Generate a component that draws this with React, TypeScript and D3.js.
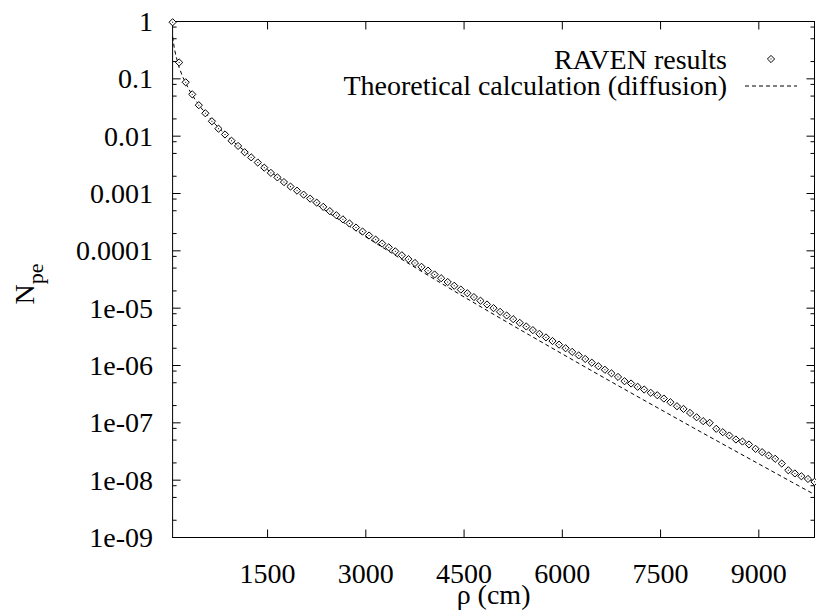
import React from "react";
import * as d3 from "d3";

const ravenRho = [
  50, 150, 250, 350, 450, 550, 650, 750, 850, 950,
  1050, 1150, 1250, 1350, 1450, 1550, 1650, 1750, 1850, 1950,
  2050, 2150, 2250, 2350, 2450, 2550, 2650, 2750, 2850, 2950,
  3050, 3150, 3250, 3350, 3450, 3550, 3650, 3750, 3850, 3950,
  4050, 4150, 4250, 4350, 4450, 4550, 4650, 4750, 4850, 4950,
  5050, 5150, 5250, 5350, 5450, 5550, 5650, 5750, 5850, 5950,
  6050, 6150, 6250, 6350, 6450, 6550, 6650, 6750, 6850, 6950,
  7050, 7150, 7250, 7350, 7450, 7550, 7650, 7750, 7850, 7950,
  8050, 8150, 8250, 8350, 8450, 8550, 8650, 8750, 8850, 8950,
  9050, 9150, 9250, 9350, 9450, 9550, 9650, 9750, 9850,
];

const ravenNpe = [
  0.97, 0.193, 0.0871, 0.0537, 0.0347, 0.0251, 0.0182, 0.0135, 0.0107, 0.00832,
  0.00676, 0.00525, 0.00427, 0.00347, 0.00282, 0.00229, 0.00191, 0.00158, 0.00132, 0.00112,
  9.55e-4, 8.13e-4, 6.93e-4, 5.85e-4, 4.93e-4, 4.18e-4, 3.54e-4, 3.0e-4, 2.55e-4, 2.17e-4,
  1.85e-4, 1.57e-4, 1.34e-4, 1.15e-4, 9.8e-5, 8.37e-5, 7.16e-5, 6.14e-5, 5.26e-5, 4.51e-5,
  3.87e-5, 3.33e-5, 2.86e-5, 2.46e-5, 2.11e-5, 1.82e-5, 1.56e-5, 1.35e-5, 1.16e-5, 1.0e-5,
  8.63e-6, 7.45e-6, 6.43e-6, 5.55e-6, 4.79e-6, 4.14e-6, 3.57e-6, 3.09e-6, 2.67e-6, 2.31e-6,
  2.0e-6, 1.73e-6, 1.5e-6, 1.3e-6, 1.12e-6, 9.72e-7, 8.43e-7, 7.3e-7, 6.32e-7, 5.32e-7,
  4.85e-7, 4.25e-7, 3.81e-7, 3.34e-7, 3.03e-7, 2.65e-7, 2.29e-7, 1.95e-7, 1.75e-7, 1.49e-7,
  1.25e-7, 1.07e-7, 1.0e-7, 7.87e-8, 6.86e-8, 6.01e-8, 5.12e-8, 4.72e-8, 4.19e-8, 3.52e-8,
  3.08e-8, 2.69e-8, 2.36e-8, 1.95e-8, 1.49e-8, 1.31e-8, 1.17e-8, 1.05e-8, 9.35e-9,
];

const theoryRho = [
  50, 75, 100, 150, 200, 300, 400, 500, 700, 850, 1000, 1500, 2000, 2500, 3000, 3500,
  4000, 4500, 5000, 5500, 6000, 6500, 7000, 7500, 8000, 8500, 9000, 9500, 9850,
];
const theoryNpe = [
  0.542, 0.35, 0.254, 0.158, 0.111, 0.0647, 0.0424, 0.0297, 0.0162, 0.0107, 0.00761, 0.0026, 1.0e-3,
  4.1e-4, 1.75e-4, 7.69e-5, 3.45e-5, 1.57e-5, 7.24e-6, 3.38e-6, 1.59e-6, 7.5e-7, 3.57e-7,
  1.71e-7, 8.2e-8, 3.96e-8, 1.92e-8, 9.31e-9, 5.62e-9,
];

const xTicks = [1500, 3000, 4500, 6000, 7500, 9000];
const yTicks = [1, 0.1, 0.01, 0.001, 0.0001, 1e-5, 1e-6, 1e-7, 1e-8, 1e-9];
const yTickLabels = ["1", "0.1", "0.01", "0.001", "0.0001", "1e-05", "1e-06", "1e-07", "1e-08", "1e-09"];
const minorMultipliers = [2, 5, 8];

const seriesNames = ["RAVEN results", "Theoretical calculation (diffusion)"];

const W = 816;
const H = 616;
const L = 172.6;
const R = 814.5;
const T = 21.5;
const B = 537.5;
const FONT = '"Liberation Serif", "DejaVu Serif", serif';
const FS = 28;

export default function App() {
  const x = d3.scaleLinear().domain([50, 9850]).range([L, R]);
  const y = d3.scaleLog().domain([1e-9, 1]).range([B, T]);

  const line = d3
    .line<number>()
    .x((_, i) => x(theoryRho[i]))
    .y((d) => y(d));

  const minorTicks: number[] = [];
  for (let i = 1; i < yTicks.length; i++) {
    for (const m of minorMultipliers) minorTicks.push(yTicks[i] * m);
  }

  const diamond = (cx: number, cy: number, r: number) =>
    `M${cx},${cy - r}L${cx + r},${cy}L${cx},${cy + r}L${cx - r},${cy}Z`;

  const MJ = 8;
  const MN = 4;
  const ts: React.CSSProperties = { fontFamily: FONT, fontSize: FS };

  return (
    <svg
      width={W}
      height={H}
      style={{ position: "absolute", left: 0, top: 0, background: "#fff" }}
    >
      <rect x={0} y={0} width={W} height={H} fill="#fff" />
      <g stroke="#000" strokeWidth={1}>
        {yTicks.map((t, i) => (
          <g key={"yt" + i}>
            <line x1={L} x2={L + MJ} y1={y(t)} y2={y(t)} />
            <line x1={R} x2={R - MJ} y1={y(t)} y2={y(t)} />
          </g>
        ))}
        {minorTicks.map((t, i) => (
          <g key={"ym" + i}>
            <line x1={L} x2={L + MN} y1={y(t)} y2={y(t)} />
            <line x1={R} x2={R - MN} y1={y(t)} y2={y(t)} />
          </g>
        ))}
        {xTicks.map((t, i) => (
          <g key={"xt" + i}>
            <line x1={x(t)} x2={x(t)} y1={B} y2={B - MJ} />
            <line x1={x(t)} x2={x(t)} y1={T} y2={T + MJ} />
          </g>
        ))}
      </g>
      <rect x={L} y={T} width={R - L} height={B - T} fill="none" stroke="#000" strokeWidth={1} />
      <g fill="#000">
        {yTicks.map((t, i) => (
          <text key={"yl" + i} x={153} y={y(t) + 9.5} textAnchor="end" style={ts}>
            {yTickLabels[i]}
          </text>
        ))}
        {xTicks.map((t, i) => (
          <text key={"xl" + i} x={x(t)} y={583} textAnchor="middle" style={ts}>
            {t}
          </text>
        ))}
        <text x={(L + R) / 2} y={604} textAnchor="middle" style={ts}>
          ρ (cm)
        </text>
        <text transform="translate(33.5,284) rotate(-90)" textAnchor="middle" style={ts}>
          N
          <tspan dy={9} style={{ fontSize: 22 }}>
            pe
          </tspan>
        </text>
      </g>
      <path
        d={line(theoryNpe) || ""}
        fill="none"
        stroke="#000"
        strokeWidth={1}
        strokeDasharray="4,3"
      />
      <g>
        {ravenNpe.map((v, i) => {
          const cx = x(ravenRho[i]);
          const cy = y(v);
          return (
            <g key={"p" + i}>
              <path d={diamond(cx, cy, 3.6)} fill="#fff" stroke="#000" strokeWidth={1} />
              <rect x={cx - 0.5} y={cy - 0.5} width={1} height={1} fill="#000" />
            </g>
          );
        })}
      </g>
      <g fill="#000">
        <text x={727} y={68.5} textAnchor="end" style={ts}>
          {seriesNames[0]}
        </text>
        <path d={diamond(771, 59, 3.6)} fill="#fff" stroke="#000" strokeWidth={1} />
        <rect x={770.5} y={58.5} width={1} height={1} fill="#000" />
        <text x={727} y={95} textAnchor="end" style={ts}>
          {seriesNames[1]}
        </text>
        <line x1={745} x2={797} y1={86} y2={86} stroke="#000" strokeWidth={1} strokeDasharray="4,3" />
      </g>
    </svg>
  );
}
